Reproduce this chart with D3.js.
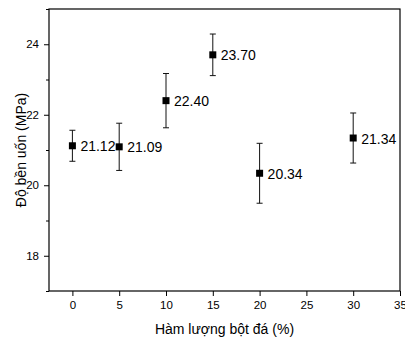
<!DOCTYPE html>
<html>
<head>
<meta charset="utf-8">
<script src="https://cdn.jsdelivr.net/npm/d3@7"></script>
<style>
  body { margin: 0; background: #fff; }
  text { font-family: "Liberation Sans", Arial, sans-serif; fill: #000; }
</style>
</head>
<body>
<svg id="chart"></svg>
<script>
// data
const contents = [0, 5, 10, 15, 20, 30];
const strength = [21.12, 21.09, 22.40, 23.70, 20.34, 21.34];
const errors = [0.44, 0.67, 0.77, 0.59, 0.85, 0.71];
const xTicks = [0, 5, 10, 15, 20, 25, 30, 35];
const yTicks = [18, 20, 22, 24];
const yMinor = [17, 19, 21, 23, 25];

const width = 405, height = 337;
const plotLeft = 49, plotRight = 400, plotTop = 9, plotBottom = 291;

const svg = d3.select("#chart")
    .attr("width", width)
    .attr("height", height);

const x = d3.scaleLinear().domain([-2.5, 35]).range([plotLeft, plotRight]);
const y = d3.scaleLinear().domain([17, 25]).range([plotBottom, plotTop]);

// frame
svg.append("rect")
    .attr("x", plotLeft).attr("y", plotTop)
    .attr("width", plotRight - plotLeft).attr("height", plotBottom - plotTop)
    .attr("fill", "none").attr("stroke", "#000").attr("stroke-width", 1.2);

// x axis
const xAxis = svg.append("g")
    .attr("transform", `translate(0,${plotBottom})`)
    .call(d3.axisBottom(x).tickValues(xTicks).tickSize(5).tickPadding(5));
xAxis.select(".domain").remove();
xAxis.selectAll("text").style("font-size", "11.5px");

// y axis
const yAxis = svg.append("g")
    .attr("transform", `translate(${plotLeft},0)`)
    .call(d3.axisLeft(y).tickValues(yTicks).tickSize(5).tickPadding(5));
yAxis.select(".domain").remove();
yAxis.selectAll("text").style("font-size", "11.5px");

const yAxisMinor = svg.append("g")
    .attr("transform", `translate(${plotLeft},0)`)
    .call(d3.axisLeft(y).tickValues(yMinor).tickSize(3).tickFormat(""));
yAxisMinor.select(".domain").remove();

// axis titles
svg.append("text")
    .attr("x", (plotLeft + plotRight) / 2)
    .attr("y", 334)
    .attr("text-anchor", "middle")
    .style("font-size", "14px")
    .text("Hàm lượng bột đá (%)");

svg.append("text")
    .attr("transform", `translate(26,${(plotTop + plotBottom) / 2}) rotate(-90)`)
    .attr("text-anchor", "middle")
    .style("font-size", "14px")
    .text("Độ bền uốn (MPa)");

const points = contents.map((c, i) => ({ c: c, v: strength[i], e: errors[i] }));

// error bars
const bars = svg.append("g").selectAll("g")
    .data(points)
    .enter().append("g")
    .attr("stroke", "#111")
    .attr("stroke-width", 1);

bars.append("line")
    .attr("x1", d => x(d.c)).attr("x2", d => x(d.c))
    .attr("y1", d => y(d.v - d.e)).attr("y2", d => y(d.v + d.e));
bars.append("line")
    .attr("x1", d => x(d.c) - 3).attr("x2", d => x(d.c) + 3)
    .attr("y1", d => y(d.v + d.e)).attr("y2", d => y(d.v + d.e));
bars.append("line")
    .attr("x1", d => x(d.c) - 3).attr("x2", d => x(d.c) + 3)
    .attr("y1", d => y(d.v - d.e)).attr("y2", d => y(d.v - d.e));

// square markers
svg.append("g").selectAll("rect")
    .data(points)
    .enter().append("rect")
    .attr("x", d => x(d.c) - 3.5)
    .attr("y", d => y(d.v) - 3.5)
    .attr("width", 7).attr("height", 7)
    .attr("fill", "#000");

// value labels
svg.append("g").selectAll("text")
    .data(points)
    .enter().append("text")
    .attr("x", d => x(d.c) + 8)
    .attr("y", d => y(d.v) + 5.5)
    .style("font-size", "14px")
    .text(d => d.v.toFixed(2));
</script>
</body>
</html>
